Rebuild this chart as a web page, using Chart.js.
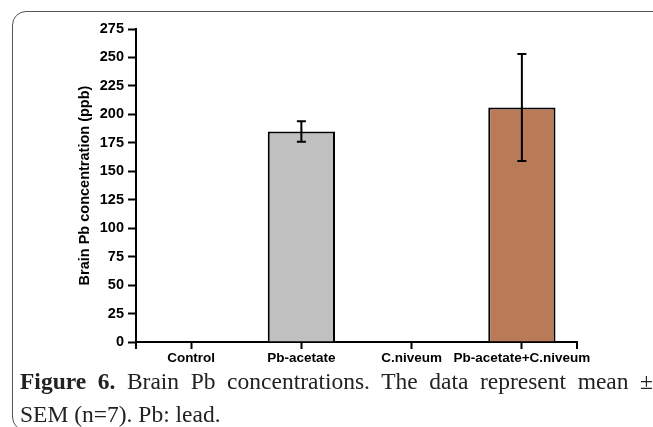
<!DOCTYPE html>
<html>
<head>
<meta charset="utf-8">
<script src="https://cdn.jsdelivr.net/npm/chart.js@4"></script>
<style>
  html, body { margin: 0; padding: 0; background: #fff; }
  body { width: 653px; height: 427px; position: relative; overflow: hidden; }
  .frame {
    position: absolute; left: 12px; top: 11px; width: 660px; height: 420px;
    border: 1px solid #555; border-radius: 14px; box-sizing: border-box;
  }
  #wrap { position: absolute; left: 0; top: 0; width: 653px; height: 427px; }
  .caption {
    position: absolute; left: 20px; top: 365px; width: 633px;
    font-family: 'Liberation Serif', 'Times New Roman', serif;
    font-size: 23.5px; line-height: 33px; color: #222;
  }
  .line1 { text-align: justify; text-align-last: justify; }
</style>
</head>
<body>
<div class="frame"></div>
<div id="wrap"><canvas id="brainChart" width="653" height="427"></canvas></div>
<div class="caption">
  <div class="line1"><b>Figure 6.</b> Brain Pb concentrations. The data represent mean ±</div>
  <div>SEM (n=7). Pb: lead.</div>
</div>
<script>
// данные графика
const groups = ['Control', 'Pb-acetate', 'C.niveum', 'Pb-acetate+C.niveum'];
const meanPb = [0, 185, 0, 206];
const semPb = [0, 9, 0, 47];
const barColors = ['#c0c0c0', '#c0c0c0', '#c0c0c0', '#b97b57'];
const yTicks = [0, 25, 50, 75, 100, 125, 150, 175, 200, 225, 250, 275];

// усы ошибок (mean ± SEM)
const errorBars = {
  id: 'errorBars',
  afterDatasetsDraw(chart) {
    const ctx = chart.ctx;
    const yScale = chart.scales.y;
    const meta = chart.getDatasetMeta(0);
    ctx.save();
    ctx.strokeStyle = '#000';
    ctx.lineWidth = 2;
    meta.data.forEach((bar, i) => {
      if (!semPb[i]) return;
      const top = yScale.getPixelForValue(meanPb[i] + semPb[i]);
      const bottom = yScale.getPixelForValue(meanPb[i] - semPb[i]);
      ctx.beginPath();
      ctx.moveTo(bar.x, top);
      ctx.lineTo(bar.x, bottom);
      ctx.moveTo(bar.x - 4.5, top);
      ctx.lineTo(bar.x + 4.5, top);
      ctx.moveTo(bar.x - 4.5, bottom);
      ctx.lineTo(bar.x + 4.5, bottom);
      ctx.stroke();
    });
    ctx.restore();
  }
};

// засечки на концах оси X
const axisEnds = {
  id: 'axisEnds',
  afterDraw(chart) {
    const ctx = chart.ctx;
    const area = chart.chartArea;
    ctx.save();
    ctx.strokeStyle = '#000';
    ctx.lineWidth = 2;
    ctx.beginPath();
    [area.left, area.right].forEach(x => {
      ctx.moveTo(x, area.bottom);
      ctx.lineTo(x, area.bottom + 7);
    });
    ctx.stroke();
    ctx.restore();
  }
};

Chart.defaults.font.family = "'Liberation Sans', Arial, sans-serif";
Chart.defaults.color = '#000';

let ctx = document.querySelector('#brainChart').getContext('2d');
let myChart = new Chart(ctx, {
  type: 'bar',
  data: {
    labels: groups,
    datasets: [{
      data: meanPb,
      backgroundColor: barColors,
      borderColor: '#000',
      borderWidth: 2,
      barPercentage: 0.61,
      categoryPercentage: 1
    }]
  },
  options: {
    responsive: false,
    animation: false,
    layout: { padding: { left: 0, top: 29, right: 76, bottom: 0 } },
    plugins: { legend: { display: false }, tooltip: { enabled: false } },
    scales: {
      x: {
        grid: { offset: false, drawOnChartArea: false, drawTicks: true, tickLength: 7, tickWidth: 2, tickColor: '#000' },
        border: { color: '#000', width: 2 },
        ticks: { font: { size: 13.5, weight: 'bold' }, padding: 1, maxRotation: 0, minRotation: 0, autoSkip: false },
        afterFit(scale) { scale.height = 85; }
      },
      y: {
        min: 0,
        max: 275,
        afterBuildTicks(scale) { scale.ticks = yTicks.map(v => ({ value: v })); },
        grid: { drawOnChartArea: false, drawTicks: true, tickLength: 8, tickWidth: 2, tickColor: '#000' },
        border: { color: '#000', width: 2 },
        ticks: { font: { size: 14.5, weight: 'bold' }, padding: 4 },
        title: {
          display: true,
          text: 'Brain Pb concentration (ppb)',
          font: { size: 14.5, weight: 'bold' },
          padding: { top: 76, bottom: 0 }
        },
        afterFit(scale) { scale.width = 136; }
      }
    }
  },
  plugins: [errorBars, axisEnds]
});
</script>
</body>
</html>
